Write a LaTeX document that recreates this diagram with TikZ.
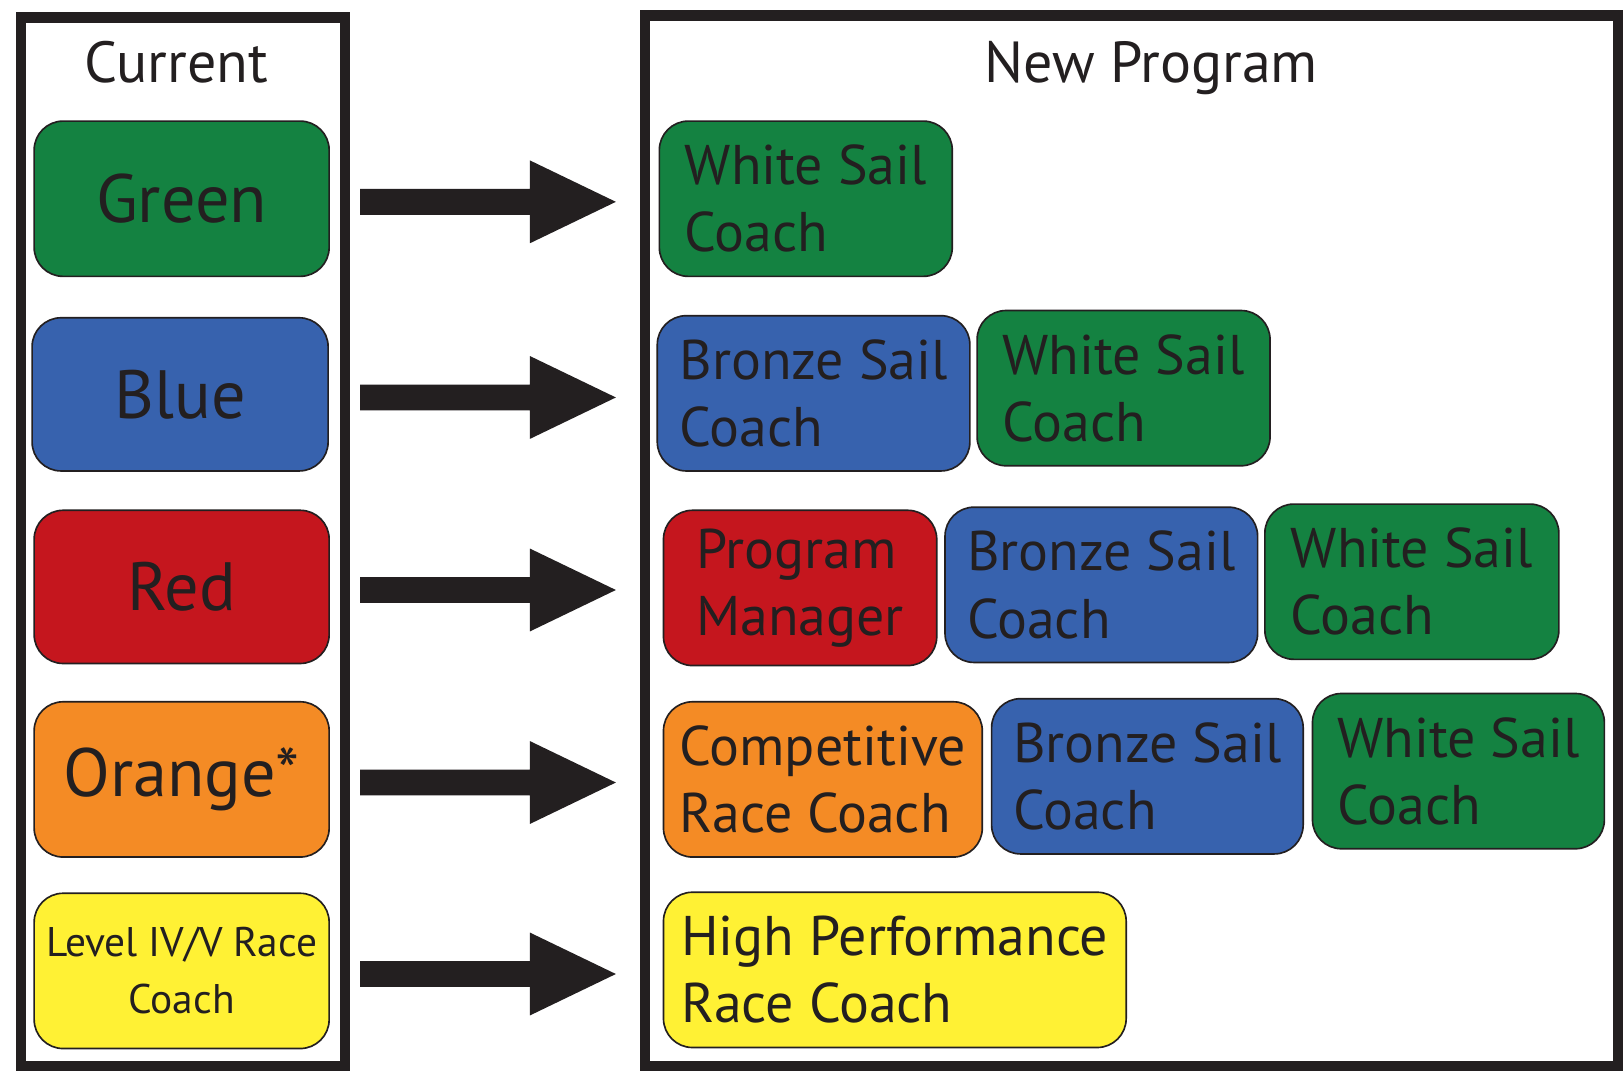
\documentclass[tikz,border=0pt]{standalone}
\usepackage{fontspec}
\setmainfont{PT Sans}
\usetikzlibrary{calc}
\definecolor{ink}{RGB}{35,31,32}
\definecolor{cgreen}{RGB}{20,130,65}
\definecolor{cblue}{RGB}{55,98,174}
\definecolor{cred}{RGB}{197,22,30}
\definecolor{corange}{RGB}{244,139,37}
\definecolor{cyellow}{RGB}{255,241,52}
\tikzset{
  frame/.style={draw=ink, line width=5pt, fill=white, inner sep=0pt},
  sbox/.style={draw=ink, line width=0.8pt, rounded corners=14pt, text=ink, inner sep=0pt},
  leftfont/.style={font=\fontsize{33}{38}\selectfont, align=center},
  levelfont/.style={font=\fontsize{20}{27.5}\selectfont, align=center},
  rightfont/.style={font=\fontsize{27}{32.5}\selectfont, align=left},
  headfont/.style={font=\fontsize{28}{32}\selectfont, text=ink}
}
\newcommand\sailbox[8]{%
  \pgfmathsetlengthmacro\sbw{(#4-#2)*0.5pt}%
  \pgfmathsetlengthmacro\sbh{(#5-#3)*0.5pt}%
  \node[sbox, fill=#6, #7, minimum width=\sbw, minimum height=\sbh] (#1) at ({(#2+#4)/2},{(#3+#5)/2}) {#8};}
\newcommand\bigarrow[2]{%
  \fill[ink] ($(#1)+(0,-12.5)$) -- ($(#2)+(-83,-12.5)$) -- ($(#2)+(-83,-40)$) -- (#2) -- ($(#2)+(-83,40)$) -- ($(#2)+(-83,12.5)$) -- ($(#1)+(0,12.5)$) -- cycle;}
\begin{document}
\begin{tikzpicture}[x=0.5pt,y=-0.5pt]
\useasboundingbox[fill=white] (0,0) rectangle (1568,1037);
% frames
\node[frame, minimum width=156.5pt, minimum height=506.5pt] (curframe) at (176.5,523.5) {};
\node[frame, minimum width=470pt, minimum height=507.5pt] (newframe) at (1093,522.5) {};
\node[headfont, anchor=base] (curhead) at (170,80) {Current};
\node[headfont, anchor=base] (newhead) at (1112,80) {New Program};
% left column
\sailbox{L1}{33}{117}{318}{267}{cgreen}{leftfont}{Green}
\sailbox{L2}{31}{307}{317}{455}{cblue}{leftfont}{Blue}
\sailbox{L3}{33}{493}{318}{641}{cred}{leftfont}{Red}
\sailbox{L4}{33}{678}{318}{828}{corange}{leftfont}{Orange*}
\sailbox{L5}{33}{863}{318}{1013}{cyellow}{levelfont}{Level IV/V Race\\Coach}
% right column
\sailbox{R11}{637}{117}{920}{267}{cgreen}{rightfont}{White Sail\\Coach}
\sailbox{R21}{635}{305}{937}{455}{cblue}{rightfont}{Bronze Sail\\Coach}
\sailbox{R22}{944}{300}{1227}{450}{cgreen}{rightfont}{White Sail\\Coach}
\sailbox{R31}{641}{493}{905}{643}{cred}{rightfont}{Program\\Manager}
\sailbox{R32}{913}{490}{1215}{640}{cblue}{rightfont}{Bronze Sail\\Coach}
\sailbox{R33}{1222}{487}{1506}{637}{cgreen}{rightfont}{White Sail\\Coach}
\sailbox{R41}{641}{678}{949}{828}{corange}{rightfont}{Competitive\\Race Coach}
\sailbox{R42}{958}{675}{1259}{825}{cblue}{rightfont}{Bronze Sail\\Coach}
\sailbox{R43}{1268}{670}{1550}{820}{cgreen}{rightfont}{White Sail\\Coach}
\sailbox{R51}{641}{862}{1088}{1012}{cyellow}{rightfont}{High Performance\\Race Coach}
% arrows
\foreach \i in {1,...,5}{
  \coordinate (as\i) at ($(L\i.east -| curframe.east)+(10,3)$);
  \coordinate (ae\i) at ($(L\i.east -| newframe.west)+(-23,3)$);
  \bigarrow{as\i}{ae\i}
}
\end{tikzpicture}
\end{document}
